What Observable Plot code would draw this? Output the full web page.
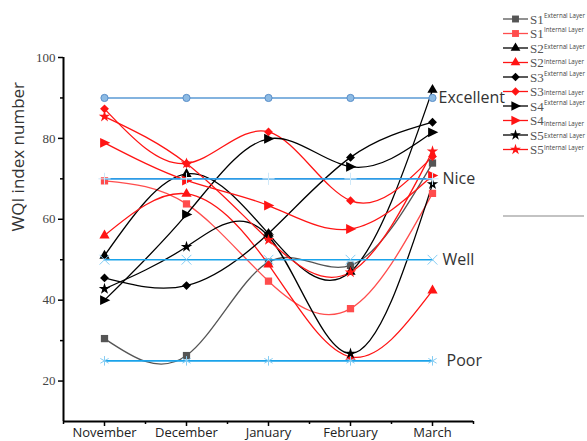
<!DOCTYPE html>
<html>
<head>
<meta charset="utf-8">
<script src="https://cdn.jsdelivr.net/npm/d3@7"></script>
<script src="https://cdn.jsdelivr.net/npm/@observablehq/plot@0.6"></script>
<style>
  html, body { margin: 0; padding: 0; background: #fff; }
  #wrap { position: relative; width: 587px; height: 441px; overflow: hidden; }
  #legend { position: absolute; left: 0; top: 0; pointer-events: none; }
</style>
</head>
<body>
<div id="wrap"></div>
<script>
// ---- data ----
const months = ["November", "December", "January", "February", "March"];

const seriesNames = [
  "S1 External Layer", "S1 Internal Layer",
  "S2 External Layer", "S2 Internal Layer",
  "S3 External Layer", "S3 Internal Layer",
  "S4 External Layer", "S4 Internal Layer",
  "S5 External Layer", "S5 Internal Layer"
];
const legendSite = ["S1", "S1", "S2", "S2", "S3", "S3", "S4", "S4", "S5", "S5"];
const legendLayer = ["External Layer", "Internal Layer", "External Layer", "Internal Layer", "External Layer",
  "Internal Layer", "External Layer", "Internal Layer", "External Layer", "Internal Layer"];

const s1External = [30.5, 26.3, 49.4, 48.6, 73.9];
const s1Internal = [69.5, 63.8, 44.7, 37.9, 66.4];
const s2External = [51.0, 71.2, 56.4, 47.0, 92.0];
const s2Internal = [56.0, 66.3, 48.8, 26.0, 42.4];
const s3External = [45.5, 43.6, 56.5, 75.3, 84.0];
const s3Internal = [87.3, 73.8, 81.6, 64.6, 75.5];
const s4External = [40.0, 61.2, 79.9, 73.0, 81.5];
const s4Internal = [78.9, 69.6, 63.4, 57.6, 70.8];
const s5External = [42.8, 53.2, 55.8, 26.8, 68.7];
const s5Internal = [85.4, 73.8, 54.9, 46.9, 76.8];
const seriesValues = [s1External, s1Internal, s2External, s2Internal, s3External,
  s3Internal, s4External, s4Internal, s5External, s5Internal];

const refLabels = ["Excellent", "Nice", "Well", "Poor"];
const refLevels = [90, 70, 50, 25];

const yTicks = [20, 40, 60, 80, 100];
const yMinorTicks = [30, 50, 70, 90];

// ---- styles ----
const triRight = {
  draw(ctx, size) {
    const h = Math.sqrt(size) * 0.78;
    ctx.moveTo(h, 0);
    ctx.lineTo(-h * 0.75, -h * 0.85);
    ctx.lineTo(-h * 0.75, h * 0.85);
    ctx.closePath();
  }
};
const RED = "#ff1414", RED_LIGHT = "#ff4d4d", BLACK = "#000000", GRAY = "#555555";
const seriesColors = [GRAY, RED_LIGHT, BLACK, RED, BLACK, RED, BLACK, RED, BLACK, RED];
const seriesSymbols = ["square", "square", "triangle", "triangle", "diamond2", "diamond2",
  triRight, triRight, "star", "star"];
const seriesR = [4.1, 4.1, 3.8, 3.8, 4.0, 4.0, 4.2, 4.2, 3.6, 3.6];

const refLineColors = ["#5b9bd5", "#2d9be6", "#1aa3ea", "#1aa3ea"];
const refSymbols = ["circle", "plus", "times", "asterisk"];
const refDx = [6, 10, 10, 14];

// ---- tables ----
const rows = seriesNames.flatMap((name, si) =>
  months.map((m, i) => ({ series: name, si, i, value: seriesValues[si][i] })));
const refRows = refLabels.flatMap((name, ri) =>
  months.map((m, i) => ({ ref: name, ri, i, value: refLevels[ri] })));

const marks = [];
// axis lines
marks.push(Plot.ruleY([10], { stroke: "#000", strokeWidth: 2 }));
marks.push(Plot.ruleX([-0.5], { stroke: "#000", strokeWidth: 2 }));
// y axis
marks.push(Plot.axisY({ ticks: yTicks, tickSize: 5, tickPadding: 3, stroke: "#000", strokeWidth: 1.5,
  fontFamily: "Liberation Serif", fontSize: 13, fill: "#444", label: null }));
marks.push(Plot.axisY({ ticks: yMinorTicks, tickSize: 3, stroke: "#000", strokeWidth: 1.5, text: null, label: null }));
// x axis
marks.push(Plot.axisX({ ticks: d3.range(months.length), tickFormat: i => months[i], tickSize: 5, tickPadding: 1,
  stroke: "#000", strokeWidth: 1.5, fontFamily: "Open Sans", fontSize: 13, fill: "#222", label: null }));
marks.push(Plot.axisX({ ticks: d3.range(-0.5, months.length, 1), tickSize: 3, stroke: "#000", strokeWidth: 1.5,
  text: null, label: null }));
// y label
marks.push(Plot.text(["WQI index number"], { frameAnchor: "left", rotate: -90, dx: -45, dy: -8,
  fontFamily: "Open Sans", fontSize: 17, fill: "#333" }));

// data lines
marks.push(Plot.line(rows, { x: "i", y: "value", z: "series", stroke: d => seriesColors[d.si],
  curve: "natural", strokeWidth: 1.3 }));
// data markers
seriesNames.forEach((name, si) => {
  marks.push(Plot.dot(rows.filter(d => d.si === si), { x: "i", y: "value", symbol: seriesSymbols[si],
    r: seriesR[si], fill: seriesColors[si], stroke: "none" }));
});

// reference lines
marks.push(Plot.line(refRows, { x: "i", y: "value", z: "ref", stroke: d => refLineColors[d.ri],
  strokeWidth: 1.6 }));
refLabels.forEach((name, ri) => {
  const sub = refRows.filter(d => d.ri === ri);
  if (ri === 0) {
    marks.push(Plot.dot(sub, { x: "i", y: "value", r: 3.6, fill: "#8dbbe4", stroke: "#5b8fc9", strokeWidth: 1 }));
  } else {
    marks.push(Plot.dot(sub, { x: "i", y: "value", r: ri === 1 ? 4 : 4.5, symbol: refSymbols[ri],
      fill: "none", stroke: ri === 1 ? "#cfe8f8" : "#86cdf3", strokeWidth: 1 }));
  }
});
marks.push(Plot.text(refLabels.map((t, ri) => ({ t, ri, value: refLevels[ri], i: months.length - 1 })), {
  x: "i", y: "value", text: "t", textAnchor: "start", fontFamily: "Open Sans", fontSize: 16, fill: "#333"
}));

const chart = Plot.plot({
  width: 587, height: 441,
  marginLeft: 63, marginRight: 114, marginTop: 57, marginBottom: 20,
  x: { domain: [-0.5, 4.5] },
  y: { domain: [10, 100] },
  color: { type: "identity" },
  style: { background: "#fff", overflow: "visible" },
  marks
});
document.getElementById("wrap").appendChild(chart);

// shift ref labels individually (style offsets)
d3.select(chart).selectAll("text").filter(function () {
  return refLabels.includes(this.textContent) && this.getAttribute("transform");
}).each(function () {
  const ri = refLabels.indexOf(this.textContent);
  const t = this.getAttribute("transform");
  this.setAttribute("transform", t + ` translate(${refDx[ri]},0)`);
});

// ---- legend overlay ----
const lg = d3.select("#wrap").append("svg").attr("id", "legend").attr("width", 587).attr("height", 441);
const rowY0 = 19, rowStep = 14.5;
const smallDy = [-3, -4, -1, -1, -3, 1, -3, 3, 1, -2];
const legendSym = { square: d3.symbolSquare, triangle: d3.symbolTriangle, diamond2: d3.symbolDiamond2, star: d3.symbolStar };
seriesNames.forEach((name, si) => {
  const y = rowY0 + si * rowStep;
  const g = lg.append("g").attr("transform", `translate(0,${y})`);
  g.append("line").attr("x1", 503).attr("x2", 528).attr("y1", 0).attr("y2", 0)
    .attr("stroke", seriesColors[si]).attr("stroke-width", 1.3);
  const sym = typeof seriesSymbols[si] === "string" ? legendSym[seriesSymbols[si]] : seriesSymbols[si];
  g.append("path").attr("transform", "translate(515.5,0)")
    .attr("d", d3.symbol(sym, Math.PI * (seriesR[si] * 0.95) ** 2)())
    .attr("fill", seriesColors[si]);
  g.append("text").attr("x", 530).attr("y", 4.5).attr("font-family", "Liberation Serif")
    .attr("font-size", 13).attr("fill", "#555").text(legendSite[si]);
  g.append("text").attr("x", 544).attr("y", 2 + smallDy[si]).attr("font-family", "Open Sans")
    .attr("font-size", 6.2).attr("fill", "#444").text(legendLayer[si]);
});
lg.append("line").attr("x1", 503).attr("x2", 584).attr("y1", 216).attr("y2", 216)
  .attr("stroke", "#888").attr("stroke-width", 1.2);
</script>
</body>
</html>
